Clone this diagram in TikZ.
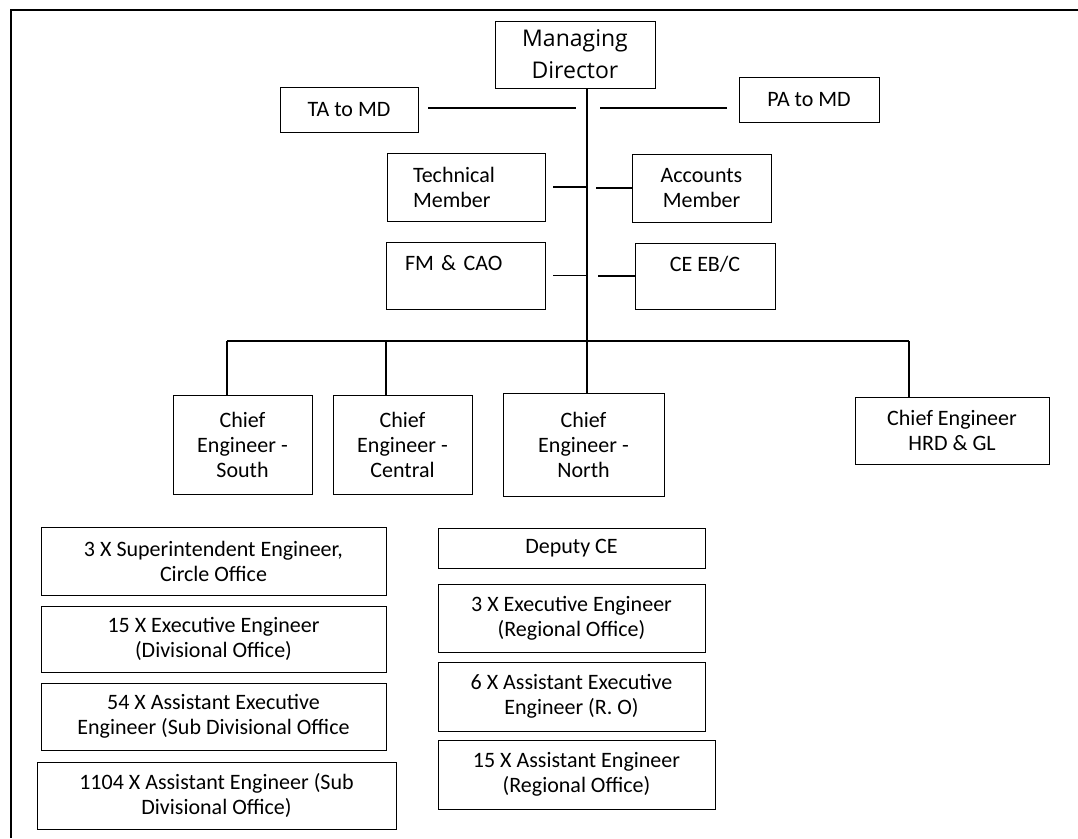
\documentclass[tikz,border=0pt]{standalone}
\usepackage{fontspec}
\setmainfont{Carlito}
\newfontfamily\mdfont{Open Sans}
\usepackage{tikz}
\usetikzlibrary{calc}
\tikzset{
    orgbox/.style={draw, line width=0.9pt, align=center, inner sep=2pt, outer sep=0pt,
        font=\fontsize{22}{25}\selectfont},
    mdbox/.style={orgbox, font=\mdfont\fontsize{23}{32}\selectfont},
    link/.style={line width=1.1pt}
}

\begin{document}
\begin{tikzpicture}[x=1pt, y=-1pt]
    \useasboundingbox (0,0) rectangle (1078,838);

    % ---------- frame ----------
    \draw[line width=1.8pt] (1078,10) -- (11,10) -- (11,838);

    % ---------- MD and staff ----------
    \node[mdbox, minimum width=160pt, minimum height=67pt] (md) at (575,54.5) {Managing\\Director};
    \node[orgbox, minimum width=138pt, minimum height=45pt] (ta) at (349,109.5) {TA to MD};
    \node[orgbox, minimum width=140pt, minimum height=45pt] (pa) at (809,99.5) {PA to MD};

    \coordinate (trunk) at (md.south -| 587,0);
    \coordinate (talink) at (428,108);
    \coordinate (palink) at (727,108);

    % ---------- members ----------
    \node[orgbox, minimum width=158pt, minimum height=68pt, text width=106pt, align=left] (tech) at (466,187) {Technical\\Member};
    \node[orgbox, minimum width=139pt, minimum height=68pt] (acc) at (701.5,188) {Accounts\\Member};
    \node[orgbox, minimum width=159pt, minimum height=67pt, text width=121pt, align=left] (fm) at (465.5,275.5) {FM \& CAO\\ \mbox{}};
    \node[orgbox, minimum width=140pt, minimum height=66pt] (ce) at (705,276) {CE EB/C\\ \mbox{}};

    % ---------- chief engineers ----------
    \node[orgbox, minimum width=139pt, minimum height=99pt] (south) at (242.5,444.5) {Chief\\Engineer -\\South};
    \node[orgbox, minimum width=139pt, minimum height=99pt] (central) at (402.5,444.5) {Chief\\Engineer -\\Central};
    \node[orgbox, minimum width=161pt, minimum height=103pt] (north) at (583.5,444.5) {Chief\\Engineer -\\North};
    \node[orgbox, minimum width=194pt, minimum height=67pt] (hrd) at (952,430.5) {Chief Engineer\\HRD \& GL};

    \coordinate (dropS) at (227,341);
    \coordinate (dropC) at (386,341);
    \coordinate (dropH) at (909,341);

    % ---------- connectors ----------
    \draw[link] (trunk) -- (trunk |- north.north);
    \draw[link, shorten >=11pt] (talink) -- (talink -| trunk);
    \draw[link, shorten >=13pt] (palink) -- (palink -| trunk);
    \draw[link, shorten <=8pt] (tech.east) -- (tech.east -| trunk);
    \draw[link, shorten >=9pt] (acc.west) -- (acc.west -| trunk);
    \draw[link, shorten <=8pt] (fm.east) -- (fm.east -| trunk);
    \draw[link, shorten >=11pt] (ce.west) -- (ce.west -| trunk);
    \draw[link] (dropS) -- (dropH);
    \draw[link] (dropS) -- (dropS |- south.north);
    \draw[link] (dropC) -- (dropC |- central.north);
    \draw[link] (dropH) -- (dropH |- hrd.north);

    % ---------- circle / division offices ----------
    \node[orgbox, minimum width=345pt, minimum height=68pt] (se) at (213.5,561) {3 X Superintendent Engineer,\\Circle Office};
    \node[orgbox, minimum width=345pt, minimum height=66pt] (ee) at (213.5,639) {15 X Executive Engineer\\(Divisional Office)};
    \node[orgbox, minimum width=345pt, minimum height=67pt] (aee) at (213.5,716.5) {54 X Assistant Executive\\Engineer (Sub Divisional Office};
    \node[orgbox, minimum width=359pt, minimum height=67pt] (ae) at (216.5,795.5) {1104 X Assistant Engineer (Sub\\Divisional Office)};

    % ---------- regional offices ----------
    \node[orgbox, minimum width=267pt, minimum height=40pt] (dce) at (571.5,548) {Deputy CE};
    \node[orgbox, minimum width=267pt, minimum height=68pt] (ree) at (571.5,618) {3 X Executive Engineer\\(Regional Office)};
    \node[orgbox, minimum width=267pt, minimum height=69pt] (raee) at (571.5,696.5) {6 X Assistant Executive\\Engineer (R. O)};
    \node[orgbox, minimum width=277pt, minimum height=69pt] (rae) at (576.5,774.5) {15 X Assistant Engineer\\(Regional Office)};
\end{tikzpicture}
\end{document}
